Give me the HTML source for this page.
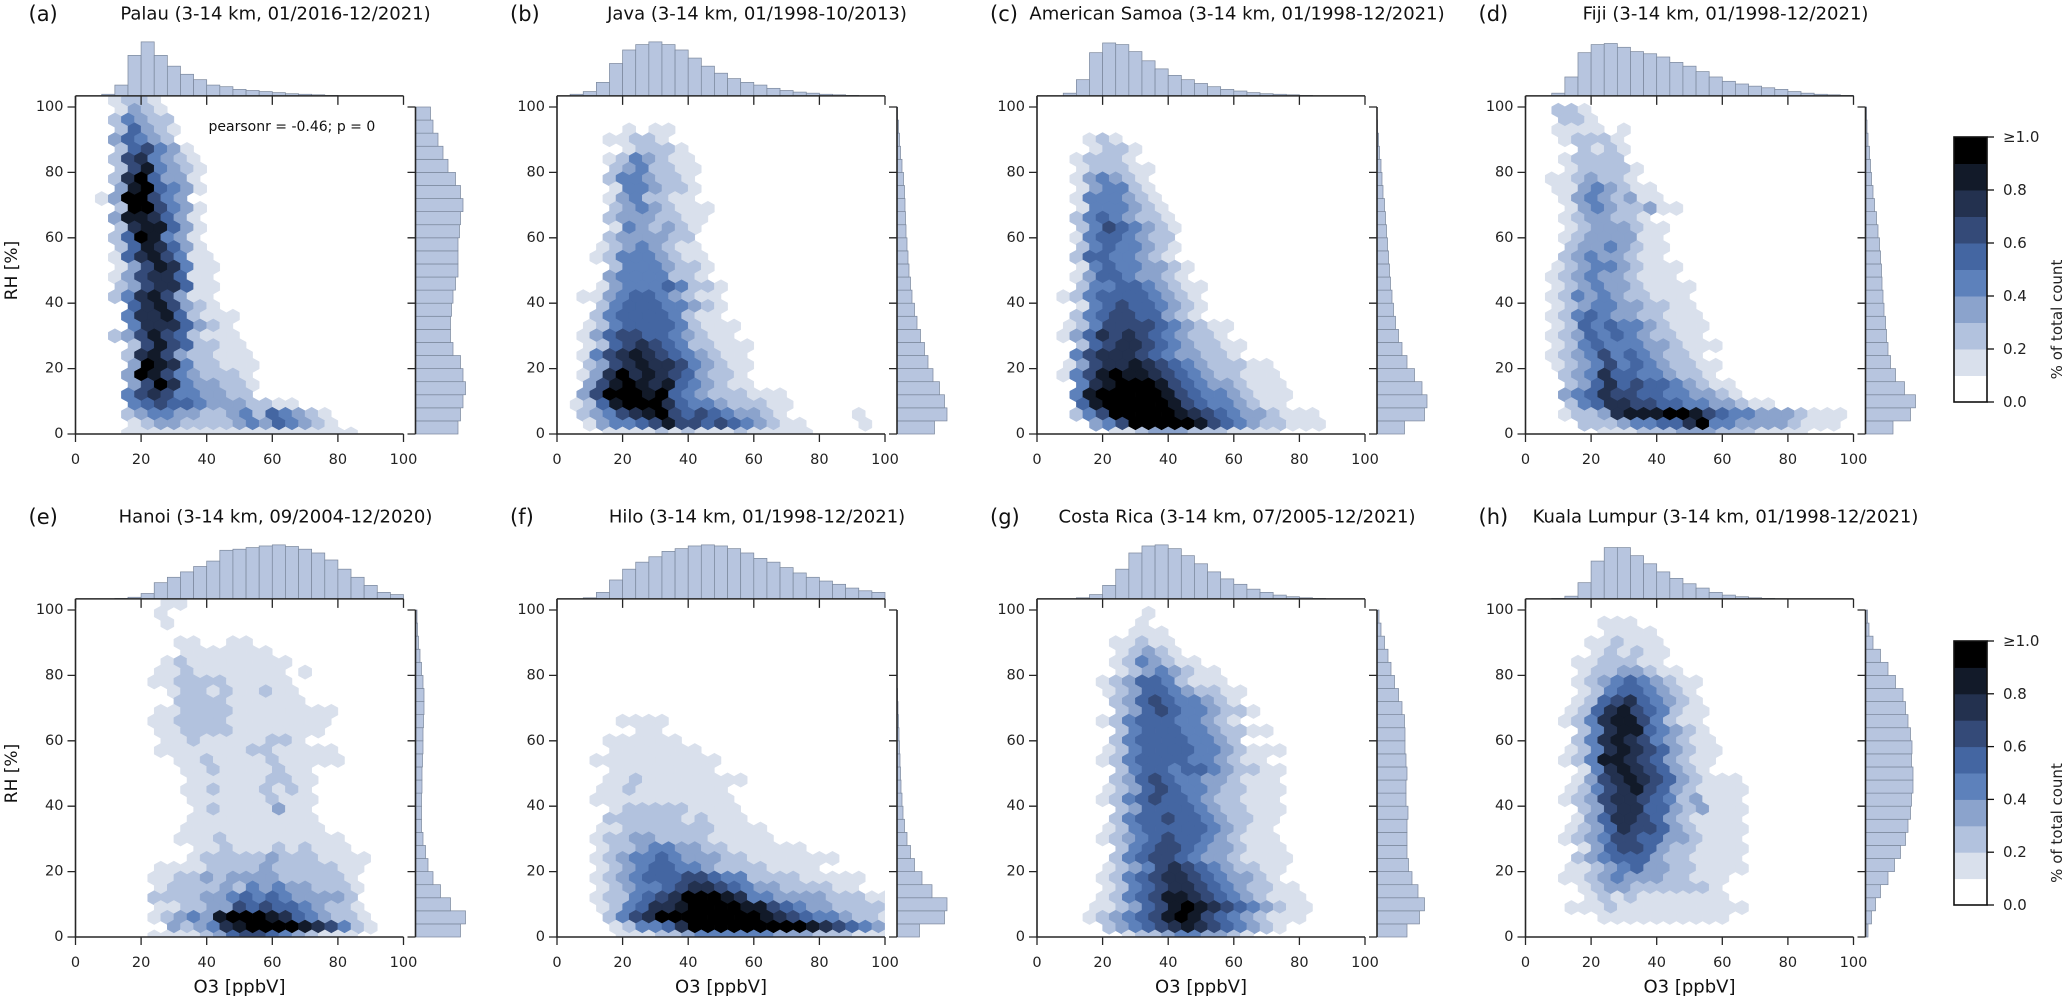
<!DOCTYPE html>
<html><head><meta charset="utf-8"><title>RH vs O3 joint hexbin plots</title>
<style>
html,body{margin:0;padding:0;background:#fff;}
svg{display:block;font-family:"DejaVu Sans","Liberation Sans",sans-serif;}
</style></head>
<body>
<svg id="fig" xmlns="http://www.w3.org/2000/svg" width="2067" height="998" viewBox="0 0 2067 998">
<rect x="0" y="0" width="2067" height="998" fill="#ffffff"/>
<defs id="defs"></defs>
</svg>
<script>
// ---- data ----
// hex rows listed top (y=102) to bottom (y=0), 3 RH units apart; each char = level at x = 4*col (+2 on odd rows)
const levelColors = ['#ffffff','#d9e0ec','#b2c2de','#8ba3cc','#5d81bb','#4466a2','#344a78','#23314f','#121a29','#000000'];
const xTicks = [0,20,40,60,80,100];
const yTicks = [0,20,40,60,80,100];
const cbTickValues = [0,0.2,0.4,0.6,0.8,1.0];
const cbTickLabels = ['0.0','0.2','0.4','0.6','0.8','\u22651.0'];

const hex_a = ["...1221","...1321","...24322","...25321","...35432","...256431","...2674321","...2684321","...2795331","...3895431",
"..1399643","...2996431","...3887531","...2788531","...2598431","...2587531","...15786411","...13687411","...13677511","...23677511",
"...24786311","....5786321","....477852111","....47775321","...2368652111","....268652211","....2786322111","....3987422111","....3986432221","....3697433221",
"....4676443322","....4565543332211","....2344332234254321","....1233222234354321","....111111111111111111"];
const top_a = [0,0,0.03,0.2,0.75,1,0.75,0.55,0.4,0.3,0.2,0.17,0.12,0.1,0.08,0.06,0.04,0.03,0.02,0.01,0,0,0,0,0];
const right_a = [0.85,0.9,0.95,1.0,0.95,0.9,0.75,0.7,0.7,0.72,0.75,0.8,0.85,0.85,0.85,0.88,0.9,0.95,0.9,0.8,0.65,0.55,0.45,0.35,0.3];

const hex_b = ["","","",".....1.11","....11221",".....12221","....1243211","....2342211","....2443221","....1443221",
"....1342211","....23432111","....23332211","....1432321","....2333322","...12343211","...124443211","....24443221","....34444221","...1344454221",
"..11345543211","...2455544321","...2455554211","..124555542111","..135665543211","..1256765422111","..1467876543211","..2367877643211","..1379787653221","..3689878543211",
"..3699989543222111",".12589997544322211","..2346789656543321.....1","..13445686656543211....1","....1111212111211111"];
const top_b = [0,0.03,0.08,0.25,0.6,0.85,0.95,1,0.95,0.85,0.7,0.55,0.42,0.32,0.25,0.2,0.14,0.1,0.07,0.05,0.03,0.02,0.01,0,0];
const right_b = [0.75,1.0,0.95,0.85,0.72,0.62,0.55,0.47,0.4,0.35,0.3,0.27,0.24,0.22,0.2,0.18,0.17,0.16,0.15,0.13,0.1,0.07,0.05,0.03,0.01];

const hex_c = ["","","","","....121","....1221","...12221","...122211","...134321","...134421",
"...1444321","...1444321","...24543221","...24654321","...14554322","...24544321","...25544321","...145443321","...135543321","...2445543211",
"..12455554321","...1456554321","...2456655321","..1246666543211","..1357676543221","...2567765432211","...4677765433221","..1367787654322211","..14689887654322111","...4789998654332111",
"...48999998654432111","...5899999865443211","...2469999987654332111","....346999998654322111","......1123332221111"];
const top_c = [0,0,0.05,0.3,0.8,0.98,0.95,0.82,0.65,0.5,0.38,0.3,0.23,0.17,0.12,0.09,0.06,0.04,0.03,0.02,0.01,0,0,0,0];
const right_c = [0.55,0.95,1,0.9,0.75,0.6,0.5,0.43,0.37,0.33,0.3,0.27,0.25,0.23,0.21,0.19,0.17,0.15,0.12,0.1,0.08,0.05,0.03,0.01,0];

const hex_d = ["","..221","...221","..1111.1","...12221","....2121","...12222","...122221","..1123221","..11343211",
"...13432311","...134322311","...1233221","...12333211","...12333311","...23343211","...23433211","..1234432111","..1234332111","..12343321111",
"..12434322111","..12344332211","..124543322111","..125454432111","..123545432211","..1245444332111","..123464543221","..1234645432211","...234755443221","...2357565543211",
"...34576655443321","...2457766554433211","...1223788899865443332111","....22234455794433332111","......1112223332221111"];
const top_d = [0,0,0.05,0.35,0.8,0.95,0.97,0.9,0.82,0.78,0.72,0.62,0.55,0.45,0.35,0.27,0.22,0.18,0.15,0.12,0.08,0.05,0.03,0.02,0.01];
const right_d = [0.55,0.9,1,0.78,0.6,0.5,0.45,0.42,0.4,0.37,0.35,0.33,0.32,0.3,0.28,0.25,0.22,0.18,0.15,0.12,0.1,0.08,0.05,0.03,0.02];

const hex_e = [".......11","......1",".......1","","........11..11","........1111111",".......1211111111","......1121111111.1","......11222211111",".......1221211211",
"........2222111111","......11222211111111","......11222211111111","......1122221111111",".......11211111221","......11111112211111","........1121111211111","........1121111211",".........1111112211","........1121112121",
".........1111112111",".........121111311",".........1111111111","........11111111111","........1112111111111",".........112111212111",".........12222232221111","......1111222232222211","......1122323333222221","......1222232434332221",
"......2222334545433332","......1122336565543221","......12343899987543221",".......3234789999876421","......1111235665432111"];
const top_e = [0,0,0,0.01,0.03,0.1,0.3,0.4,0.5,0.6,0.7,0.9,0.92,0.95,0.98,1,0.97,0.92,0.85,0.72,0.55,0.4,0.25,0.12,0.08];
const right_e = [0.9,1,0.7,0.5,0.35,0.25,0.2,0.15,0.12,0.12,0.12,0.13,0.13,0.14,0.15,0.15,0.16,0.17,0.17,0.15,0.12,0.09,0.06,0.04,0.03];

const hex_f = ["","","","","","","","","","","","",
".....1111","......11","....111111","....1111111","...1111111111","....11111111","....11211111111","...1121111111",
"...11111111111","....1222221111","....22222212111","...1122222221111","...12233222211111","...1223443322111111","...1234454333221111111","...12345544322221111","...123455566544222211111","...12344567765433222211",
"...12245679998744333322211","...12457789999886543322221","....24679999999987654432211","....1244579999999998765432",".....1112234444443332221111"];
const top_f = [0,0,0.02,0.12,0.35,0.55,0.68,0.78,0.88,0.93,0.98,1,0.98,0.93,0.85,0.75,0.68,0.58,0.48,0.4,0.33,0.27,0.2,0.15,0.12];
const right_f = [0.45,0.95,1,0.7,0.5,0.35,0.27,0.2,0.15,0.12,0.1,0.08,0.07,0.06,0.05,0.04,0.03,0.02,0.01,0,0,0,0,0,0];

const hex_g = ["","........1","........1",".......111","......11211","......12321","......1243211","......12343211",".....1235542111",".....12355432211",
"......2356544321","......23565443221",".....12455544321","......245554432211","......2455554432",".....12455554432111",".....1245555443211","......2455455432211","......2356544332111",".....12356544322111",
".....12456554322111","......2355554322111","......2455655432211",".....1245555543211",".....12345655432111","......2456654332111","......24566543321111",".....12346765432211",".....12456776543321",".....124567765432211",
".....1245688765432111","....11235689876543211","....12345689865432111",".....23456787654321",".......1223443321"];
const top_g = [0,0,0,0.02,0.08,0.25,0.55,0.85,0.98,1,0.93,0.8,0.65,0.5,0.37,0.27,0.18,0.12,0.07,0.04,0.02,0.01,0,0,0];
const right_g = [0.6,0.85,0.95,0.82,0.7,0.63,0.6,0.6,0.6,0.62,0.58,0.58,0.6,0.58,0.56,0.56,0.55,0.5,0.43,0.35,0.28,0.22,0.15,0.08,0.04];

const hex_h = ["","","......111","......1111",".....112111",".....121211","....1122211","....12233211","....1234543211","....124554321",
"....1256754321","...12578654211","...12478864211","....2478854321","....24787643211","...124787653211","...124887653211","....1478765321","....1367876532111","...12467865321111",
"...12367765423111","....2367755323111","....1357765321111","...12357665321111","...12346655332111","....1356653221111","....2345553221111","...11234533221111","...1123433322111","....12332222221",
".....12121111111","...11121111111111","......1111111111","",""];
const top_h = [0,0,0.01,0.05,0.3,0.7,0.95,0.95,0.8,0.65,0.5,0.38,0.28,0.2,0.12,0.07,0.04,0.02,0.01,0,0,0,0,0,0];
const right_h = [0.05,0.12,0.2,0.3,0.45,0.58,0.7,0.8,0.85,0.9,0.92,0.95,0.95,0.92,0.93,0.9,0.85,0.8,0.75,0.6,0.45,0.3,0.15,0.07,0.04];

const titles = ['Palau (3-14 km, 01/2016-12/2021)','Java (3-14 km, 01/1998-10/2013)','American Samoa (3-14 km, 01/1998-12/2021)','Fiji (3-14 km, 01/1998-12/2021)',
'Hanoi (3-14 km, 09/2004-12/2020)','Hilo (3-14 km, 01/1998-12/2021)','Costa Rica (3-14 km, 07/2005-12/2021)','Kuala Lumpur (3-14 km, 01/1998-12/2021)'];
const letters = ['a','b','c','d','e','f','g','h'];
const hexData = [hex_a,hex_b,hex_c,hex_d,hex_e,hex_f,hex_g,hex_h];
const topData = [top_a,top_b,top_c,top_d,top_e,top_f,top_g,top_h];
const rightData = [right_a,right_b,right_c,right_d,right_e,right_f,right_g,right_h];

// ---- layout ----
const PPX = 3.28, PPY = 3.27, YMAX = 103.4;
const ROWSTEP = 3;
const colX0 = [75.5, 557, 1037, 1525.5];
const rowY0 = [434, 937];
const TOPH = 54, RIGHTW = 50, HGAP = 12;
const NS = 'http://www.w3.org/2000/svg';
const svg = document.getElementById('fig');
const defs = document.getElementById('defs');

function el(tag, attrs, parent, text){
  const e = document.createElementNS(NS, tag);
  for (const k in attrs) e.setAttribute(k, attrs[k]);
  if (text !== undefined) e.textContent = text;
  (parent || svg).appendChild(e);
  return e;
}

const AX = '#262626';

for (let p = 0; p < 8; p++) {
  const x0 = colX0[p % 4], y0 = rowY0[Math.floor(p / 4)], row = Math.floor(p / 4);
  const xs = v => x0 + v * PPX;
  const ys = v => y0 - v * PPY;
  const ytop = ys(YMAX);
  const g = el('g', {});
  
  

  const cp = el('clipPath', {id: 'clip' + p}, defs);
  el('rect', {x: x0, y: ytop, width: 100 * PPX, height: y0 - ytop}, cp);

  // hexbins
  const hg = el('g', {'clip-path': 'url(#clip' + p + ')'}, g);
  
  
  const rows = hexData[p];
  for (let i = 0; i < rows.length; i++) {
    const r = rows.length - 1 - i;
    const yv = r * ROWSTEP;
    const s = rows[i].slice(0, 27);
    for (let c = 0; c < s.length; c++) {
      const ch = s[c];
      if (ch < '1' || ch > '9') continue;
      const lvl = +ch;
      const xv = c * 4 + (r % 2 ? 2 : 0);
      const cx = xs(xv), cy = ys(yv);
      const hw = 2 * PPX, h1 = 1.1 * PPY, h2 = 2.2 * PPY;
      const pts = [[cx+hw,cy-h1],[cx+hw,cy+h1],[cx,cy+h2],[cx-hw,cy+h1],[cx-hw,cy-h1],[cx,cy-h2]].map(q=>q[0].toFixed(1)+','+q[1].toFixed(1)).join(' ');
      const hx = el('polygon', {points: pts, fill: levelColors[lvl], stroke: levelColors[lvl], 'stroke-width': 0.5}, hg);
      
      
    }
  }

  // top histogram
  const th = el('g', {}, g);
  
  
  topData[p].forEach((v, i) => {
    if (v <= 0) return;
    const h = v * TOPH;
    const b = el('rect', {x: xs(i * 4), y: ytop - h, width: 4 * PPX, height: h, fill: '#b7c5df', stroke: '#7a879c', 'stroke-width': 0.7}, th);
    
    
  });

  // right histogram
  const rx = xs(100) + HGAP;
  const rh = el('g', {}, g);
  
  
  rightData[p].forEach((v, i) => {
    if (v <= 0) return;
    const w = v * RIGHTW;
    const b = el('rect', {x: rx, y: ys(i * 4 + 4), width: w, height: 4 * PPY, fill: '#b7c5df', stroke: '#7a879c', 'stroke-width': 0.7}, rh);
    
    
  });

  // spines
  const sp = el('path', {d: `M${x0},${ytop} L${x0},${y0} L${xs(100)},${y0} M${x0},${ytop} L${xs(100)},${ytop} M${rx},${ys(100)} L${rx},${y0}`, fill: 'none', stroke: AX, 'stroke-width': 1.6}, g);
  
  

  xTicks.forEach(t => {
    const tk = el('path', {d: `M${xs(t)},${y0} L${xs(t)},${y0+8} M${xs(t)},${ytop} L${xs(t)},${ytop+9}`, stroke: AX, 'stroke-width': 1.3}, g);
    
    
    const lb = el('text', {x: xs(t), y: y0 + 26, 'text-anchor': 'middle', 'dominant-baseline': 'central', 'font-size': 14.5, fill: '#222'}, g, String(t));
    
    
  });
  yTicks.forEach(t => {
    const tk = el('path', {d: `M${x0-8},${ys(t)} L${x0},${ys(t)} M${rx-8},${ys(t)} L${rx},${ys(t)}`, stroke: AX, 'stroke-width': 1.3}, g);
    
    
    const lb = el('text', {x: x0 - 12, y: ys(t), 'text-anchor': 'end', 'dominant-baseline': 'central', 'font-size': 14.5, fill: '#222'}, g, String(t));
    
    
  });

  const tyc = row === 0 ? 14 : 517;
  const lab = el('text', {x: x0 - 47, y: tyc, 'dominant-baseline': 'central', 'font-size': 21, fill: '#111'}, g, '(' + letters[p] + ')');
  
  
  const tt = el('text', {x: x0 + 200, y: tyc, 'text-anchor': 'middle', 'dominant-baseline': 'central', 'font-size': 18, fill: '#111'}, g, titles[p]);
  
  

  if (p % 4 === 0) {
    const yl = el('text', {x: 0, y: 0, transform: `translate(12,${ys(50)}) rotate(-90)`, 'text-anchor': 'middle', 'dominant-baseline': 'central', 'font-size': 17, fill: '#111'}, g, 'RH [%]');
    
    
  }
  if (row === 1) {
    const xl = el('text', {x: xs(50), y: y0 + 50, 'text-anchor': 'middle', 'dominant-baseline': 'central', 'font-size': 18, fill: '#111'}, g, 'O3 [ppbV]');
    
    
  }
  if (p === 0) {
    const pr = el('text', {x: x0 + 133, y: 127, 'dominant-baseline': 'central', 'font-size': 14, fill: '#111'}, g, 'pearsonr = -0.46; p = 0');
    
    
  }
}

// colorbars
[[137, 402], [641, 905]].forEach((cb, k) => {
  const g = el('g', {});
  
  
  const cx0 = 1954, cw = 33, top = cb[0], bot = cb[1], H = bot - top;
  for (let i = 0; i < 10; i++) {
    const seg = el('rect', {x: cx0, y: bot - (i + 1) * H / 10, width: cw, height: H / 10 + 0.5, fill: levelColors[i]}, g);
    
    
  }
  const ol = el('rect', {x: cx0, y: top, width: cw, height: H, fill: 'none', stroke: '#111', 'stroke-width': 1.6}, g);
  
  
  cbTickValues.forEach((v, i) => {
    const ty = bot - v * H;
    const tk = el('line', {x1: cx0 + cw, x2: cx0 + cw + 7, y1: ty, y2: ty, stroke: '#111', 'stroke-width': 1.3}, g);
    
    
    const lb = el('text', {x: cx0 + cw + 16, y: ty, 'dominant-baseline': 'central', 'font-size': 15, fill: '#222'}, g, cbTickLabels[i]);
    
    
  });
  const tl = el('text', {x: 0, y: 0, transform: `translate(2057,${(top + bot) / 2 + 50}) rotate(-90)`, 'text-anchor': 'middle', 'dominant-baseline': 'central', 'font-size': 15, fill: '#222'}, g, '% of total count');
  
  
});
</script>
</body></html>
